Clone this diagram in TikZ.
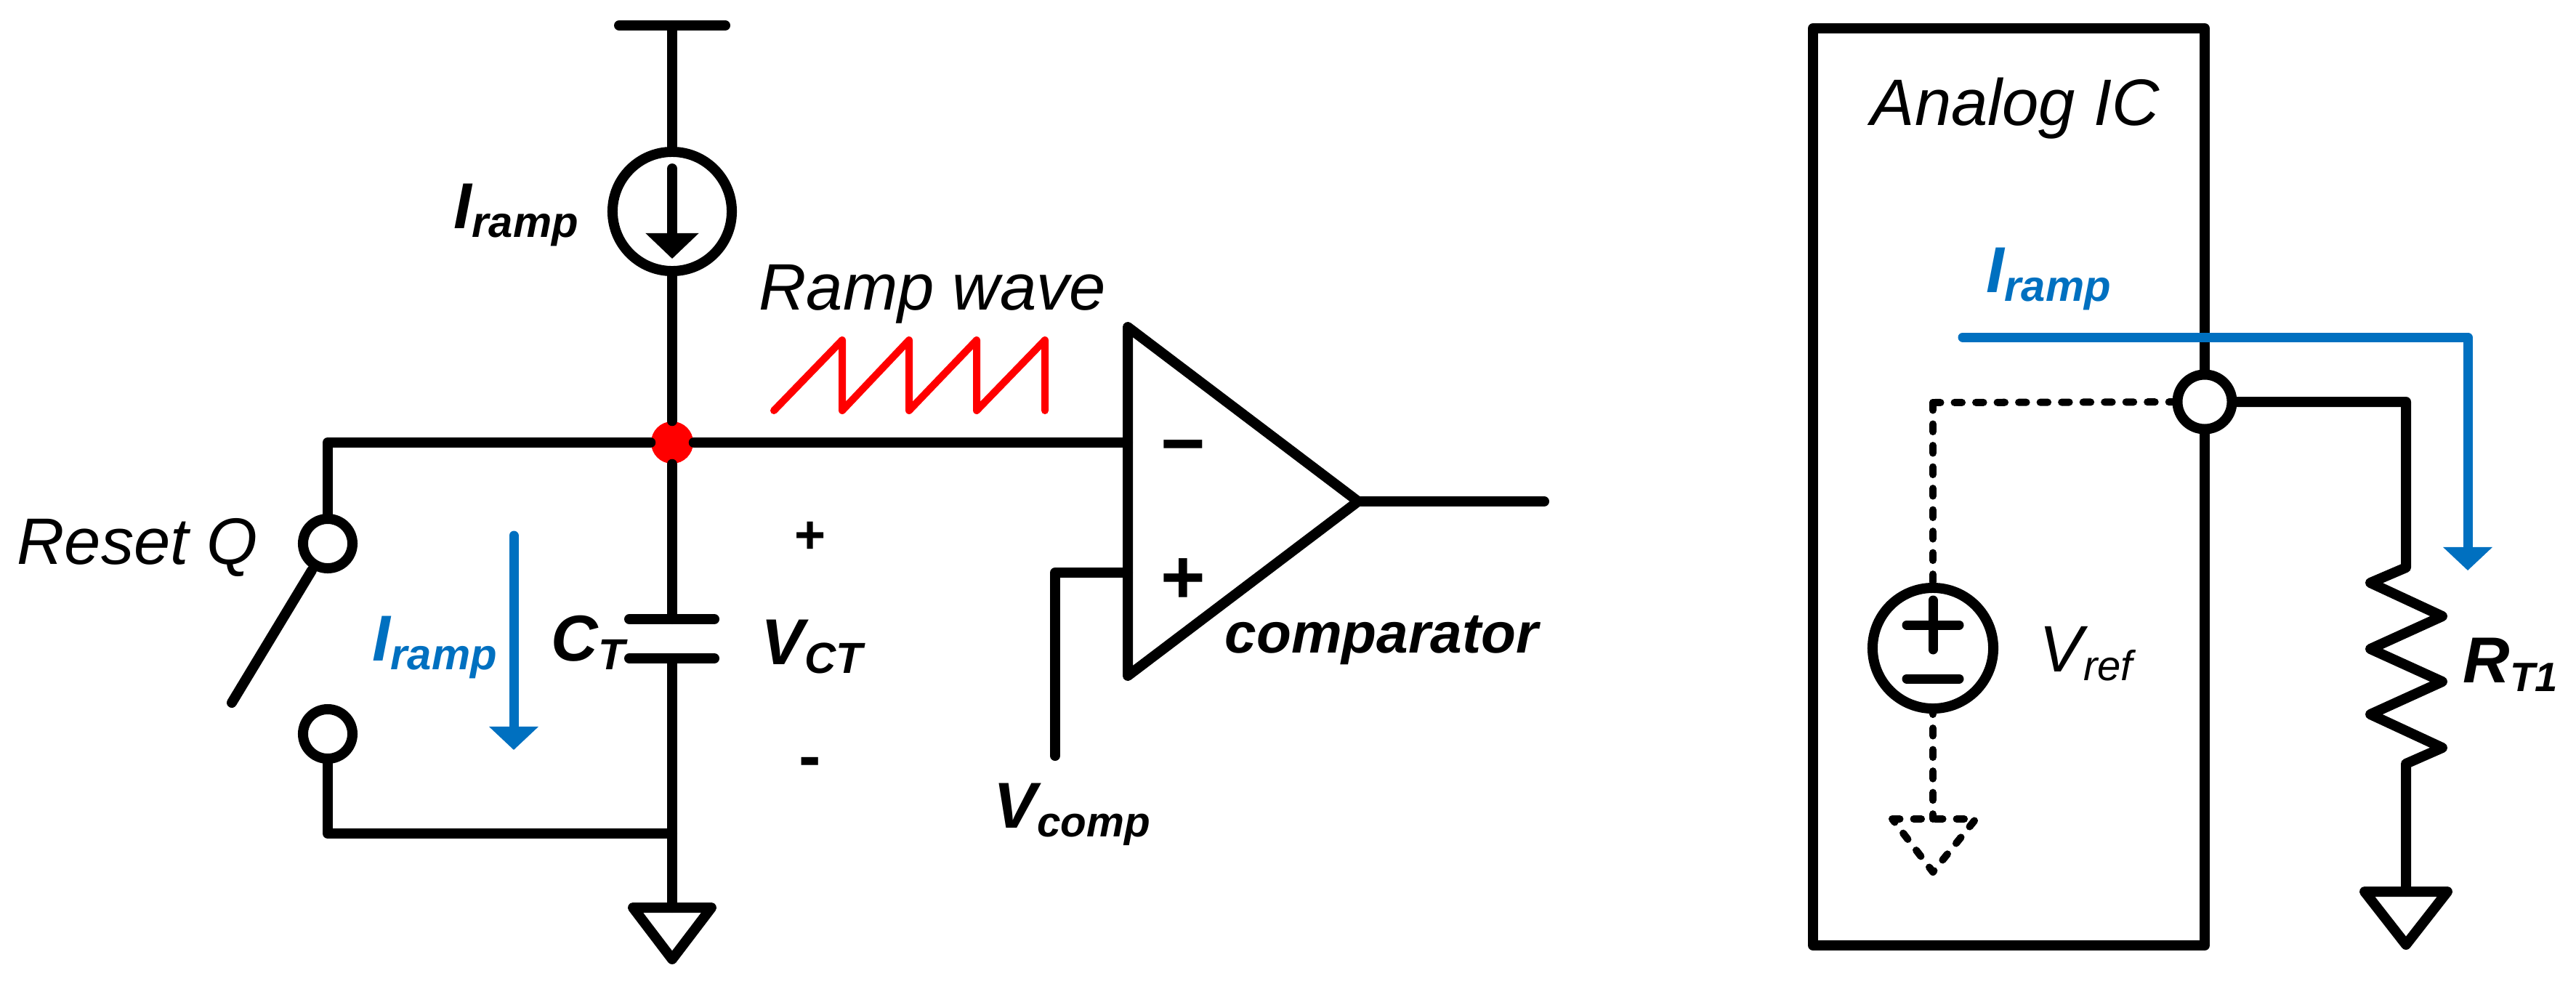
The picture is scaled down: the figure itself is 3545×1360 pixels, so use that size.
\documentclass[tikz,border=0pt]{standalone}
\usepackage{fontspec}
\setmainfont{Liberation Sans}
\usepackage{xcolor}
\usetikzlibrary{arrows.meta, positioning}
\definecolor{rampblue}{HTML}{0070C0}
\newcommand{\lowsub}[2][17]{\raisebox{-3.6pt}{\fontsize{#1}{#1}\selectfont #2}}

\begin{document}
\begin{tikzpicture}[
            x=0.01cm, y=-0.01cm,
            wire/.style={line width=0.14cm, line cap=round, line join=round},
            dashwire/.style={line width=0.1cm, line cap=round, line join=round, dash pattern=on 0.105cm off 0.19cm},
            bluewire/.style={line width=0.13cm, rampblue, line join=round, line cap=round,
                -{Triangle[length=0.32cm, width=0.66cm]}},
            srcnode/.style={circle, draw, line width=0.14cm, minimum size=1.64cm, inner sep=0},
            termnode/.style={circle, draw, fill=white, line width=0.14cm, minimum size=0.68cm, inner sep=0},
            lbl/.style={inner sep=0, anchor=base west, font=\fontsize{25.7}{26}\selectfont\itshape},
            lblb/.style={inner sep=0, anchor=base west, font=\fontsize{25.4}{26}\selectfont\bfseries\itshape},
            signnode/.style={inner sep=0, font=\fontsize{21}{22}\selectfont\bfseries}
        ]
        \useasboundingbox (0,0) rectangle (3545,1360);

        % Nodes (manual layout to match figure)
        \node[srcnode] (Isrc) at (925, 291) {};
        \node[circle, fill=red, minimum size=0.58cm, inner sep=0] (dot) at (925, 609) {};
        \node[termnode] (swtop) at (451, 748) {};
        \node[termnode] (swbot) at (451, 1010) {};

        \coordinate (vddL) at (852, 35);
        \coordinate (vddR) at (998, 35);
        \coordinate (vdd) at (925, 35);
        \coordinate (arrtop) at (925, 232);
        \coordinate (arrtip) at (925, 356);
        \coordinate (topL) at (451, 609);
        \coordinate (botL) at (451, 1147);
        \coordinate (botR) at (925, 1147);
        \coordinate (capA) at (925, 852);
        \coordinate (capB) at (925, 906);
        \coordinate (capAL) at (866, 852);
        \coordinate (capAR) at (983, 852);
        \coordinate (capBL) at (866, 906);
        \coordinate (capBR) at (983, 906);
        \coordinate (armA) at (429, 785);
        \coordinate (armB) at (319, 967);
        \coordinate (gndM) at (925, 1249);
        \coordinate (gndL) at (871, 1249);
        \coordinate (gndR) at (979, 1249);
        \coordinate (gndT) at (925, 1320);

        \coordinate (cmpT) at (1552, 450);
        \coordinate (cmpB) at (1552, 930);
        \coordinate (cmpO) at (1869, 690);
        \coordinate (cmpIn) at (1552, 609);
        \coordinate (cmpP) at (1552, 788);
        \coordinate (compK) at (1452, 788);
        \coordinate (compE) at (1452, 1040);
        \coordinate (cmpE) at (2125, 690);

        % Left part: edges
        \draw[wire] (vddL) -- (vddR);
        \draw[wire] (vdd) -- (Isrc);
        \draw[wire, -{Triangle[length=0.35cm, width=0.71cm]}] (arrtop) -- (arrtip);
        \draw[wire] (Isrc) -- (dot);
        \draw[wire] (dot) -- (capA);
        \draw[wire] (capAL) -- (capAR);
        \draw[wire] (capBL) -- (capBR);
        \draw[wire] (capB) -- (gndM);
        \draw[wire] (gndL) -- (gndR) -- (gndT) -- cycle;
        \draw[wire] (dot) -- (topL) -- (swtop);
        \draw[wire] (swbot) -- (botL) -- (botR);
        \draw[wire] (armA) -- (armB);
        \draw[wire] (dot) -- (cmpIn);
        \draw[wire] (cmpT) -- (cmpB) -- (cmpO) -- cycle;
        \draw[wire] (cmpO) -- (cmpE);
        \draw[wire] (cmpP) -- (compK) -- (compE);

        \coordinate (blueA) at (707, 737);
        \coordinate (blueB) at (707, 1032);
        \draw[bluewire] (blueA) -- (blueB);

        % Ramp wave
        \draw[red, line width=0.1cm, line cap=round, line join=round]
            (1065,565) -- (1159,468) -- (1159,565) -- (1251,468) -- (1251,565)
            -- (1344,468) -- (1344,565) -- (1438,468) -- (1438,565);

        % Left part: labels
        \node[lblb] (lbIsrc) at (624, 314) {I\lowsub{ramp}};
        \node[lbl] (lbReset) at (23, 776) {Reset Q};
        \node[lblb, text=rampblue] (lbIblue) at (512, 909) {I\lowsub{ramp}};
        \node[lblb] (lbCT) at (758, 909) {C\lowsub{T}};
        \node[lblb] (lbVCT) at (1047, 914) {V\lowsub{CT}};
        \node[lbl] (lbRamp) at (1044, 426) {Ramp wave};
        \node[lblb, font=\fontsize{22.3}{23}\selectfont\bfseries\itshape] (lbCmp) at (1685, 898) {comparator};
        \node[lblb] (lbVcomp) at (1367, 1139) {V\lowsub[16.6]{comp}};
        \node[signnode] (signP) at (1115, 740) {+};
        \node[signnode, font=\fontsize{26}{27}\selectfont\bfseries] (signM) at (1115, 1057) {-};
        \node[signnode, font=\fontsize{30}{31}\selectfont\bfseries] (cmpMinus) at (1628, 626) {\symbol{"2212}};
        \node[signnode, font=\fontsize{30}{31}\selectfont\bfseries] (cmpPlus) at (1628, 800) {+};

        % Right part: nodes
        \coordinate (boxA) at (2495, 39);
        \coordinate (boxB) at (3034, 39);
        \coordinate (boxC) at (3034, 1301);
        \coordinate (boxD) at (2495, 1301);
        \draw[wire] (boxA) -- (boxB) -- (boxC) -- (boxD) -- cycle;

        \node[termnode, minimum size=0.75cm] (term) at (3034, 553) {};
        \node[srcnode, minimum size=1.66cm] (Vsrc) at (2660, 892) {};

        \coordinate (dashK) at (2660, 554);
        \coordinate (dashE) at (2660, 1127);
        \coordinate (dgL) at (2604, 1127);
        \coordinate (dgR) at (2719, 1127);
        \coordinate (dgT) at (2660, 1200);
        \coordinate (rtK) at (3311, 553);
        \coordinate (rtA) at (3311, 781);
        \coordinate (rtB) at (3311, 1051);
        \coordinate (rtG) at (3311, 1227);
        \coordinate (rgL) at (3254, 1227);
        \coordinate (rgR) at (3368, 1227);
        \coordinate (rgT) at (3311, 1300);
        \coordinate (blueC) at (2701, 464);
        \coordinate (blueK) at (3396, 464);
        \coordinate (blueD) at (3396, 785);

        % Right part: edges
        \draw[dashwire] (dashK) -- (term);
        \draw[dashwire] (dashK) -- (Vsrc);
        \draw[dashwire, dash phase=0.095cm] (Vsrc) -- (dashE);
        \draw[dashwire] (dgL) -- (dgR) -- (dgT) -- cycle;
        \draw[wire] (term) -- (rtK) -- (rtA)
            -- (3262,802) -- (3361,848) -- (3262,893) -- (3361,938) -- (3262,983) -- (3361,1029)
            -- (rtB) -- (rtG);
        \draw[wire] (rgL) -- (rgR) -- (rgT) -- cycle;
        \draw[bluewire] (blueC) -- (blueK) -- (blueD);

        % plus and minus of the reference source
        \draw[wire, line width=0.13cm] (2624,860) -- (2696,860);
        \draw[wire, line width=0.13cm] (2660,826) -- (2660,894);
        \draw[wire, line width=0.13cm] (2624,934) -- (2696,934);

        % Right part: labels
        \node[lbl] (lbIC) at (2574, 172) {Analog IC};
        \node[lblb, text=rampblue] (lbIblue2) at (2733, 402) {I\lowsub{ramp}};
        \node[lbl] (lbVref) at (2806, 924) {V\lowsub[16.5]{ref}};
        \node[lblb] (lbRT) at (3389, 939) {R\lowsub[16]{T1}};

\end{tikzpicture}
\end{document}
